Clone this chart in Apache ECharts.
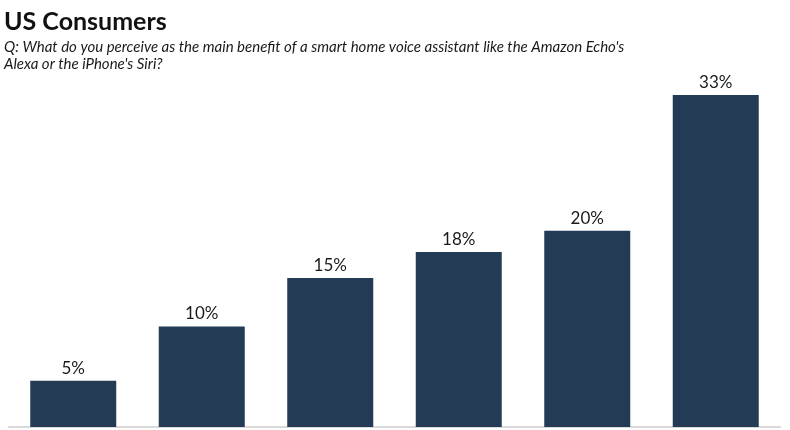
<!DOCTYPE html>
<html><head><meta charset="utf-8">
<script src="https://cdn.jsdelivr.net/npm/echarts@6/dist/echarts.min.js"></script>
<style>html,body{margin:0;padding:0;background:#fff;}#c{width:790px;height:430px;}</style>
</head><body><div id="c"></div>
<script>
var categories = ['A', 'B', 'C', 'D', 'E', 'F'];
var values = [4.6, 10, 14.8, 17.4, 19.5, 33];
var valueLabels = ['5%', '10%', '15%', '18%', '20%', '33%'];
var titleText = 'US Consumers';
var subText = "Q: What do you perceive as the main benefit of a smart home voice assistant like the Amazon Echo's\nAlexa or the iPhone's Siri?";

var chart = echarts.init(document.getElementById('c'), null, {renderer: 'canvas'});
chart.setOption({
  animation: false,
  backgroundColor: '#fff',
  title: [{
    text: titleText,
    left: 4, top: 9, padding: 0,
    textStyle: {fontFamily: 'Lato', fontWeight: 'bold', fontSize: 25, color: '#111'}
  }, {
    text: subText,
    left: 4, top: 39, padding: 0,
    textStyle: {fontFamily: 'Lato', fontStyle: 'italic', fontWeight: 'normal', fontSize: 15, lineHeight: 17, color: '#1a1a1a'}
  }],
  grid: {left: 9, right: 10, top: 95, bottom: 3, containLabel: false},
  xAxis: {
    type: 'category', data: categories,
    axisLine: {show: true, lineStyle: {color: '#d9d9d9', width: 2}},
    axisTick: {show: false}, axisLabel: {show: false}
  },
  yAxis: {type: 'value', min: 0, max: 33, show: false, splitLine: {show: false}},
  series: [{
    type: 'bar', data: values, barWidth: 86,
    itemStyle: {color: '#243b55'},
    label: {show: true, position: 'top', distance: 4,
      formatter: function (p) { return valueLabels[p.dataIndex]; },
      fontFamily: 'Lato', fontSize: 17, color: '#1a1a1a'}
  }]
});
</script></body></html>
